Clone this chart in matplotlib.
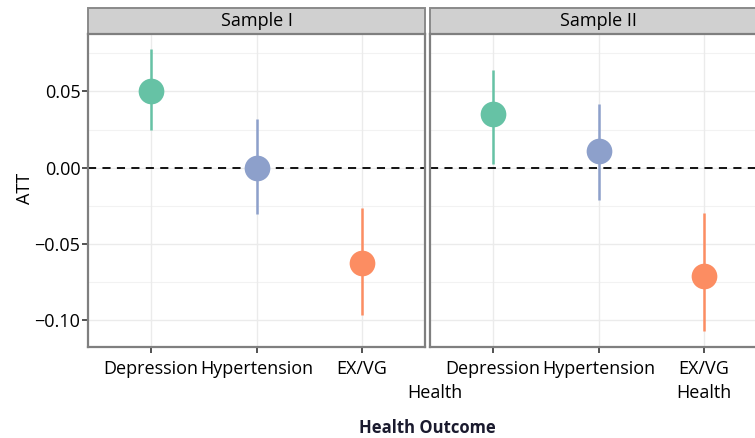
import matplotlib
matplotlib.use("Agg")
import matplotlib.pyplot as plt
from matplotlib.patches import Rectangle

plt.rcParams['font.family'] = ['Open Sans', 'DejaVu Sans']

# data
samples = ["Sample I", "Sample II"]
outcomes = ["Depression", "Hypertension", "EX/VG\nHealth"]
colors = ["#66C2A5", "#8DA0CB", "#FC8D62"]

att_s1 = [0.0506, -0.0005, -0.0629]
lo_s1 = [0.0244, -0.0306, -0.0966]
hi_s1 = [0.0779, 0.0321, -0.0262]

att_s2 = [0.0349, 0.0109, -0.0710]
lo_s2 = [0.0022, -0.0212, -0.1075]
hi_s2 = [0.0638, 0.0415, -0.0300]

yticks = [-0.10, -0.05, 0.00, 0.05]
yminor = [-0.075, -0.025, 0.025, 0.075]

fig = plt.figure(figsize=(7.55, 4.38), dpi=100)
W, H = 755, 438
panel_w = 337 / W
panel_h = 313 / H
bottom = 1 - 347 / H
lefts = [88 / W, 430 / W]

data = [(att_s1, lo_s1, hi_s1), (att_s2, lo_s2, hi_s2)]

for k, (name, (att, lo, hi)) in enumerate(zip(samples, data)):
    ax = fig.add_axes([lefts[k], bottom, panel_w, panel_h])
    x = list(range(1, len(outcomes) + 1))
    ax.set_xlim(0.4, 3.6)
    ax.set_ylim(-0.1177, 0.0877)
    # grid
    for yv in yticks:
        ax.axhline(yv, color="#EBEBEB", lw=1.0, zorder=0)
    for yv in yminor:
        ax.axhline(yv, color="#F2F2F2", lw=0.8, zorder=0)
    for xv in x:
        ax.axvline(xv, color="#EBEBEB", lw=1.0, zorder=0)
    ax.axhline(0, color="black", lw=1.3, ls=(0, (4.5, 3.5)), zorder=1)
    for i in range(len(x)):
        ax.plot([x[i], x[i]], [lo[i], hi[i]], color=colors[i], lw=1.8, zorder=2,
                solid_capstyle="butt")
        ax.plot(x[i], att[i], "o", color=colors[i], ms=18.5, mec="none", zorder=3)
    ax.set_xticks(x)
    ax.set_yticks(yticks)
    ax.tick_params(axis="x", labelsize=13, length=4.5, width=1.2, color="#333333", pad=5)
    if k == 0:
        ax.set_xticklabels(["Depression", "Hypertension", "EX/VG"])
        ax.set_yticklabels(["\u22120.10", "\u22120.05", "0.00", "0.05"])
        ax.tick_params(axis="y", labelsize=13, length=4.5, width=1.2, color="#333333", pad=1)
    else:
        ax.set_xticklabels(outcomes, linespacing=1.45)
        ax.tick_params(axis="y", length=0, labelleft=False)
    for sp in ax.spines.values():
        sp.set_color("#7F7F7F")
        sp.set_linewidth(1.6)
    # facet strip
    strip_h = 26 / 313
    ax.add_patch(Rectangle((0, 1), 1, strip_h, transform=ax.transAxes, clip_on=False,
                           facecolor="#D0D0D0", edgecolor="#8A8A8A", lw=1.4))
    ax.text(0.5, 1 + strip_h / 2, name, transform=ax.transAxes, ha="center",
            va="center", fontsize=13)

# stray second line of the left panel's EX/VG label, as in the reference
fig.text(434.5 / W, 1 - 393 / H, "Health", ha="center", va="center", fontsize=13)

fig.text(25 / W, 1 - 188 / H, "ATT", rotation=90, ha="center", va="center", fontsize=13)
fig.text(427 / W, 1 - 428 / H, "Health Outcome", ha="center", va="center",
         fontsize=12, fontweight="bold", color="#1a1a2e")

fig.savefig("out.png", dpi=100)
